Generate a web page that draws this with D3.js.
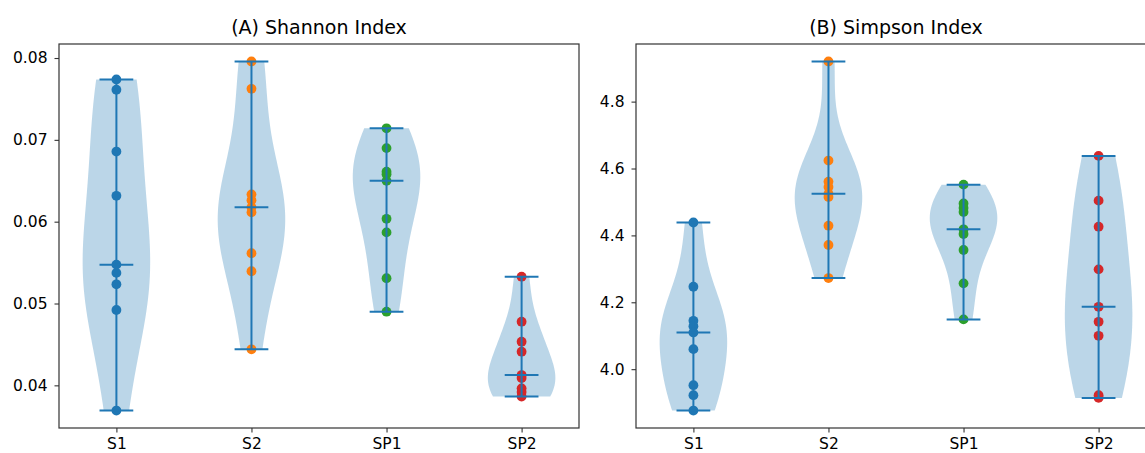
<!DOCTYPE html>
<html><head><meta charset="utf-8">
<script src="https://cdn.jsdelivr.net/npm/d3@7"></script>
<style>body{margin:0;background:#fff}svg{display:block}text{font-family:"DejaVu Sans",sans-serif;fill:#000}</style>
</head><body><svg id="c" width="1145" height="453"></svg>
<script>
const categories = ["S1","S2","SP1","SP2"];
const pointColors = ["#1f77b4","#ff7f0e","#2ca02c","#d62728"];
const shannonS1 = [0.07738,0.07612,0.06857,0.06316,0.05475,0.05374,0.05235,0.04921,0.03692];
const shannonS2 = [0.07958,0.07624,0.06334,0.06261,0.06177,0.06114,0.05615,0.05394,0.04440];
const shannonSP1 = [0.07141,0.06899,0.06610,0.06580,0.06499,0.06035,0.05869,0.05309,0.04900];
const shannonSP2 = [0.05328,0.04778,0.04533,0.04411,0.04126,0.04089,0.03963,0.03918,0.03863];
const simpsonS1 = [4.4386,4.2464,4.1446,4.1287,4.1099,4.0599,3.9521,3.9222,3.8763];
const simpsonS2 = [4.9201,4.6237,4.5608,4.5449,4.5249,4.5150,4.4290,4.3713,4.2725];
const simpsonSP1 = [4.5518,4.4955,4.4820,4.4701,4.4183,4.4042,4.3563,4.2566,4.1488];
const simpsonSP2 = [4.6377,4.5039,4.4260,4.2985,4.1865,4.1416,4.0997,3.9222,3.9141];
const shannonTicks = [0.04,0.05,0.06,0.07,0.08];
const simpsonTicks = [4.0,4.2,4.4,4.6,4.8];
const titles = ["(A) Shannon Index","(B) Simpson Index"];

const svg = d3.select("#c");
const lineColor = "#1f77b4";

function kde(data){
  const n = data.length, mean = d3.mean(data);
  const sd = Math.sqrt(d3.sum(data, d => (d-mean)**2)/(n-1));
  const bw = sd * Math.pow(n, -1/5);
  const lo = d3.min(data), hi = d3.max(data);
  const pts = d3.range(100).map(i => lo + (hi-lo)*i/99);
  const dens = pts.map(x => d3.mean(data, d => Math.exp(-0.5*((x-d)/bw)**2)));
  const m = d3.max(dens);
  return pts.map((x,i) => [x, 0.25*dens[i]/m]);
}

function panel(groups, ticks, fmt, left, right, title){
  const top = 44, bottom = 428;
  const all = groups.flat();
  const lo = d3.min(all), hi = d3.max(all), pad = (hi-lo)*0.05;
  const x = d3.scaleLinear().domain([0.575, 4.425]).range([left, right]);
  const y = d3.scaleLinear().domain([lo-pad, hi+pad]).range([bottom, top]);
  const g = svg.append("g");
  groups.forEach((data,i) => {
    const pos = i+1;
    const k = kde(data);
    const area = d3.area().x0(d => x(pos - d[1])).x1(d => x(pos + d[1])).y(d => y(d[0]));
    g.append("path").attr("d", area(k)).attr("fill", "#1f77b4").attr("fill-opacity", 0.3);
  });
  groups.forEach((data,i) => {
    g.selectAll(null).data(data).enter().append("circle")
      .attr("cx", x(i+1)).attr("cy", d => y(d)).attr("r", 4.9).attr("fill", pointColors[i]);
  });
  groups.forEach((data,i) => {
    const pos = i+1;
    const mn = d3.min(data), mx = d3.max(data), md = d3.median(data);
    g.append("line").attr("x1", x(pos)).attr("x2", x(pos)).attr("y1", y(mn)).attr("y2", y(mx))
      .attr("stroke", lineColor).attr("stroke-width", 2);
    [mn, mx, md].forEach(v => {
      g.append("line").attr("x1", x(pos-0.125)).attr("x2", x(pos+0.125)).attr("y1", y(v)).attr("y2", y(v))
        .attr("stroke", lineColor).attr("stroke-width", 2);
    });
  });
  const ya = d3.axisLeft(y).tickValues(ticks).tickFormat(fmt).tickSize(4.5).tickPadding(7);
  const yg = g.append("g").attr("transform", `translate(${left},0)`).call(ya);
  const xa = d3.axisBottom(x).tickValues([1,2,3,4]).tickFormat((d,i) => categories[i]).tickSize(4.5).tickPadding(5);
  const xg = g.append("g").attr("transform", `translate(0,${bottom})`).call(xa);
  [yg, xg].forEach(a => {
    a.select(".domain").remove();
    a.selectAll(".tick line").attr("stroke", "#333").attr("stroke-width", 1.1);
    a.selectAll("text").style("font-size", "15.5px").attr("fill", "#222");
  });
  g.append("rect").attr("x", left).attr("y", top).attr("width", right-left).attr("height", bottom-top)
    .attr("fill", "none").attr("stroke", "#333").attr("stroke-width", 1.2);
  g.append("text").attr("x", (left+right)/2).attr("y", 34).attr("text-anchor", "middle")
    .style("font-size", "19px").attr("fill", "#222").text(title);
}

panel([shannonS1, shannonS2, shannonSP1, shannonSP2], shannonTicks, d3.format(".2f"), 59, 579, titles[0]);
panel([simpsonS1, simpsonS2, simpsonSP1, simpsonSP2], simpsonTicks, d3.format(".1f"), 636, 1156, titles[1]);
</script></body></html>
